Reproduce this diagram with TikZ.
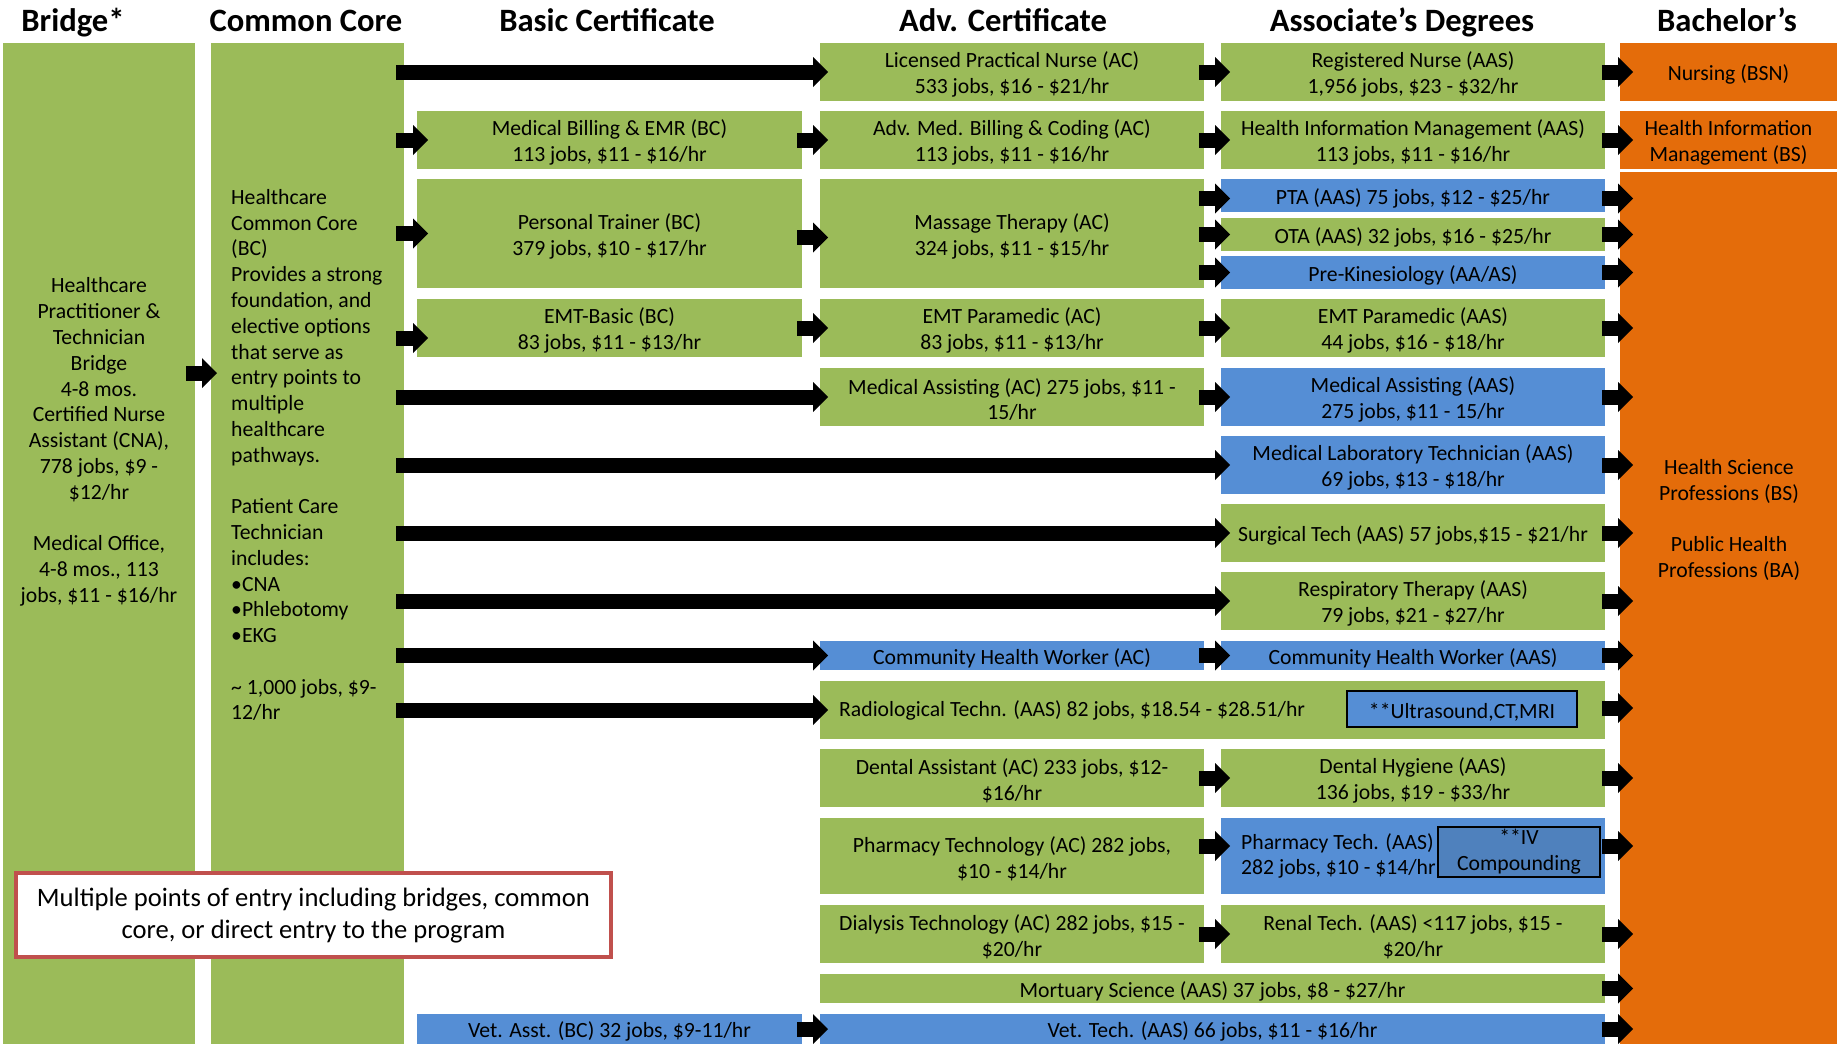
\documentclass[tikz,border=0pt]{standalone}
\usepackage{fontspec}
\setmainfont{Carlito}
\usetikzlibrary{arrows.meta, positioning}

\definecolor{boxgreen}{HTML}{9BBB59}
\definecolor{boxblue}{HTML}{558ED5}
\definecolor{tagblue}{HTML}{4F81BD}
\definecolor{bachorange}{HTML}{E46C0A}
\definecolor{notered}{HTML}{C0504D}

\newcommand\cellfont{\fontsize{21.7}{25.8}\selectfont}
\newcommand\hdrfont{\fontsize{32.6}{36}\selectfont\bfseries}
\newcommand\notefont{\fontsize{26.6}{31.7}\selectfont}
\newcommand\lift{\rule{0pt}{21pt}}

\begin{document}
\begin{tikzpicture}
    %defining some styles
    [
        x=1pt, y=-1pt,
        cell/.style={rectangle, anchor=north west, inner sep=0pt, outer sep=0pt, align=center, font=\cellfont,
            execute at begin node={\lift}},
        gbox/.style={cell, fill=boxgreen},
        bbox/.style={cell, fill=boxblue},
        obox/.style={cell, fill=bachorange},
        sz/.style 2 args={minimum width=#1pt, minimum height=#2pt},
        hdr/.style={anchor=base, inner sep=0pt, font=\hdrfont},
        txt/.style={inner sep=0pt, font=\cellfont},
        tagbox/.style={cell, draw=black, line width=2pt},
        notebox/.style={rectangle, anchor=north west, inner sep=0pt, align=center, font=\notefont,
            fill=white, draw=notered, line width=4pt},
        blk/.style={line width=15pt, -{Triangle[length=15pt, width=30pt, line width=0pt]}},
    ]
    \useasboundingbox (0,0) rectangle (1837,1044);

    %headers
    \node[hdr] (hbridge) at (73,31) {Bridge*};
    \node[hdr] (hcore) at (306,31) {Common Core};
    \node[hdr] (hbasic) at (607,31) {Basic Certificate};
    \node[hdr] (hadv) at (1003,31) {Adv. Certificate};
    \node[hdr] (hassoc) at (1402,31) {Associate’s Degrees};
    \node[hdr] (hbach) at (1727,31) {Bachelor’s};

    %entry columns
    \node[gbox, sz={192}{1001}] (bridge) at (3,43) {};
    \node[gbox, sz={193}{1001}] (cc) at (211,43) {};
    \node[txt, align=center] (bridgetxt) at (99,442) {Healthcare\\Practitioner \&\\Technician\\Bridge\\4-8 mos.\\Certified Nurse\\Assistant (CNA),\\778 jobs, \$9 -\\\$12/hr\\[25.8pt]Medical Office,\\4-8 mos., 113\\jobs, \$11 - \$16/hr};
    \node[txt, align=left, anchor=west] (cctxt) at (231,455) {Healthcare\\Common Core\\(BC)\\Provides a strong\\foundation, and\\elective options\\that serve as\\entry points to\\multiple\\healthcare\\pathways.\\[25.6pt]Patient Care\\Technician\\includes:\\•CNA\\•Phlebotomy\\•EKG\\[25.6pt]\textasciitilde{} 1,000 jobs, \$9-\\12/hr};

    %basic certificate
    \node[gbox, sz={385}{58}] (mbc) at (417,111) {\lift Medical Billing \& EMR (BC)\\113 jobs, \$11 - \$16/hr};
    \node[gbox, sz={385}{109}] (ptc) at (417,179) {\lift Personal Trainer (BC)\\379 jobs, \$10 - \$17/hr};
    \node[gbox, sz={385}{58}] (emtb) at (417,299) {\lift EMT-Basic (BC)\\83 jobs, \$11 - \$13/hr};
    \node[bbox, sz={385}{30}] (vetasst) at (417,1014) {Vet. Asst. (BC) 32 jobs, \$9-11/hr};

    %advanced certificate
    \node[gbox, sz={384}{58}] (lpn) at (820,43) {\lift Licensed Practical Nurse (AC)\\533 jobs, \$16 - \$21/hr};
    \node[gbox, sz={384}{58}] (amb) at (820,111) {\lift Adv. Med. Billing \& Coding (AC)\\113 jobs, \$11 - \$16/hr};
    \node[gbox, sz={384}{109}] (mt) at (820,179) {\lift Massage Therapy (AC)\\324 jobs, \$11 - \$15/hr};
    \node[gbox, sz={384}{58}] (emtp) at (820,299) {\lift EMT Paramedic (AC)\\83 jobs, \$11 - \$13/hr};
    \node[gbox, sz={384}{58}] (maac) at (820,368) {\lift Medical Assisting (AC) 275 jobs, \$11 -\\15/hr};
    \node[bbox, sz={384}{29}] (chwac) at (820,641) {Community Health Worker (AC)};
    \node[gbox, sz={785}{58}] (rad) at (820,681) {};
    \node[gbox, sz={384}{58}] (da) at (820,749) {\lift Dental Assistant (AC) 233 jobs, \$12-\\\$16/hr};
    \node[gbox, sz={384}{76}] (phac) at (820,818) {\lift Pharmacy Technology (AC) 282 jobs,\\\$10 - \$14/hr};
    \node[gbox, sz={384}{58}] (dial) at (820,905) {\lift Dialysis Technology (AC) 282 jobs, \$15 -\\\$20/hr};
    \node[gbox, sz={785}{29}] (mort) at (820,974) {Mortuary Science (AAS) 37 jobs, \$8 - \$27/hr};
    \node[bbox, sz={785}{30}] (vettech) at (820,1014) {Vet. Tech. (AAS) 66 jobs, \$11 - \$16/hr};

    %associate degrees
    \node[gbox, sz={384}{58}] (rn) at (1221,43) {\lift Registered Nurse (AAS)\\1,956 jobs, \$23 - \$32/hr};
    \node[gbox, sz={384}{58}] (him) at (1221,111) {\lift Health Information Management (AAS)\\113 jobs, \$11 - \$16/hr};
    \node[bbox, sz={384}{33}] (pta) at (1221,179) {PTA (AAS) 75 jobs, \$12 - \$25/hr};
    \node[gbox, sz={384}{33}] (ota) at (1221,218) {OTA (AAS) 32 jobs, \$16 - \$25/hr};
    \node[bbox, sz={384}{33}] (prek) at (1221,256) {Pre-Kinesiology (AA/AS)};
    \node[gbox, sz={384}{58}] (emtpa) at (1221,299) {\lift EMT Paramedic (AAS)\\44 jobs, \$16 - \$18/hr};
    \node[bbox, sz={384}{58}] (maaas) at (1221,368) {\lift Medical Assisting (AAS)\\275 jobs, \$11 - 15/hr};
    \node[bbox, sz={384}{58}] (mlt) at (1221,436) {\lift Medical Laboratory Technician (AAS)\\69 jobs, \$13 - \$18/hr};
    \node[gbox, sz={384}{58}] (st) at (1221,504) {Surgical Tech (AAS) 57 jobs,\$15 - \$21/hr};
    \node[gbox, sz={384}{58}] (rt) at (1221,572) {\lift Respiratory Therapy (AAS)\\79 jobs, \$21 - \$27/hr};
    \node[bbox, sz={384}{29}] (chwaas) at (1221,641) {Community Health Worker (AAS)};
    \node[gbox, sz={384}{58}] (dh) at (1221,749) {\lift Dental Hygiene (AAS)\\136 jobs, \$19 - \$33/hr};
    \node[bbox, sz={384}{76}] (phaas) at (1221,818) {};
    \node[gbox, sz={384}{58}] (renal) at (1221,905) {\lift Renal Tech. (AAS) <117 jobs, \$15 -\\\$20/hr};

    %bachelor's
    \node[obox, sz={217}{58}] (bsn) at (1620,43) {Nursing (BSN)};
    \node[obox, sz={217}{58}] (himbs) at (1620,111) {\lift Health Information\\Management (BS)};
    \node[obox, sz={217}{872}] (hsp) at (1620,172) {};
    \node[txt, align=center] (hsptxt) at (1729,520) {Health Science\\Professions (BS)\\[25.6pt]Public Health\\Professions (BA)};

    %texts set off-centre and inner tags
    \node[txt, anchor=west, right=19pt of rad.west] (radtxt) {Radiological Techn. (AAS) 82 jobs, \$18.54 - \$28.51/hr};
    \node[tagbox, fill=boxblue, sz={230}{36}] (usound) at (1347,691) {**Ultrasound,CT,MRI};
    \node[txt, align=left, anchor=west, right=20pt of phaas.west] (phaastxt) {Pharmacy Tech. (AAS)\\282 jobs, \$10 - \$14/hr};
    \node[tagbox, fill=tagblue, sz={162}{50}] (ivtag) at (1438,827) {**IV\\Compounding};

    %arrows
    \draw[blk] ([xshift=-9pt,yshift=170.5pt]bridge.east) -- ([xshift=6pt,yshift=170.5pt]cc.west);

    \draw[blk] ([xshift=-8pt]cc.east |- mbc) -- ([xshift=11pt]mbc.west);
    \draw[blk] ([xshift=-8pt]cc.east |- ptc) -- ([xshift=11pt]ptc.west);
    \draw[blk] ([xshift=-8pt,yshift=-10pt]cc.east |- emtb) -- ([xshift=11pt,yshift=-10pt]emtb.west);
    \draw[blk] ([xshift=-8pt]cc.east |- lpn) -- ([xshift=8pt]lpn.west);
    \draw[blk] ([xshift=-8pt]cc.east |- maac) -- ([xshift=8pt]maac.west);
    \draw[blk] ([xshift=-8pt]cc.east |- mlt) -- ([xshift=9pt]mlt.west);
    \draw[blk] ([xshift=-8pt]cc.east |- st) -- ([xshift=9pt]st.west);
    \draw[blk] ([xshift=-8pt]cc.east |- rt) -- ([xshift=9pt]rt.west);
    \draw[blk] ([xshift=-8pt]cc.east |- chwac) -- ([xshift=8pt]chwac.west);
    \draw[blk] ([xshift=-8pt]cc.east |- rad) -- ([xshift=8pt]rad.west);

    \draw[blk] ([xshift=-5pt]mbc.east) -- ([xshift=8pt]amb.west);
    \draw[blk] ([xshift=-5pt,yshift=-4pt]ptc.east) -- ([xshift=8pt,yshift=-4pt]mt.west);
    \draw[blk] ([xshift=-5pt]emtb.east) -- ([xshift=8pt]emtp.west);
    \draw[blk] ([xshift=-5pt]vetasst.east) -- ([xshift=8pt]vettech.west);

    \draw[blk] ([xshift=-5pt]lpn.east) -- ([xshift=9pt]rn.west);
    \draw[blk] ([xshift=-5pt]amb.east) -- ([xshift=9pt]him.west);
    \draw[blk] ([xshift=-5pt,yshift=-3pt]mt.east |- pta) -- ([xshift=9pt,yshift=-3pt]pta.west);
    \draw[blk] ([xshift=-5pt]mt.east |- ota) -- ([xshift=9pt]ota.west);
    \draw[blk] ([xshift=-5pt]mt.east |- prek) -- ([xshift=9pt]prek.west);
    \draw[blk] ([xshift=-5pt]emtp.east) -- ([xshift=9pt]emtpa.west);
    \draw[blk] ([xshift=-5pt]maac.east) -- ([xshift=9pt]maaas.west);
    \draw[blk] ([xshift=-5pt]chwac.east) -- ([xshift=9pt]chwaas.west);
    \draw[blk] ([xshift=-5pt]da.east) -- ([xshift=9pt]dh.west);
    \draw[blk] ([xshift=-5pt,yshift=10pt]phac.east) -- ([xshift=9pt,yshift=10pt]phaas.west);
    \draw[blk] ([xshift=-5pt]dial.east) -- ([xshift=9pt]renal.west);

    \draw[blk] ([xshift=-3pt]rn.east) -- ([xshift=13pt]bsn.west);
    \draw[blk] ([xshift=-3pt]him.east) -- ([xshift=13pt]himbs.west);
    \foreach \src/\dy in {pta/-3, ota/0, prek/0, emtpa/0, maaas/0, mlt/0, st/0, rt/0, chwaas/0, rad/2, dh/0, phaas/10, renal/0, mort/0, vettech/0}
        \draw[blk] ([xshift=-3pt,yshift=\dy pt]\src.east) -- ([xshift=13pt,yshift=\dy pt]\src.east -| hsp.west);

    %note
    \node[notebox, sz={595}{84}] (note) at (14,871) {\rule{0pt}{19.5pt}Multiple points of entry including bridges, common\\core, or direct entry to the program};
\end{tikzpicture}
\end{document}
